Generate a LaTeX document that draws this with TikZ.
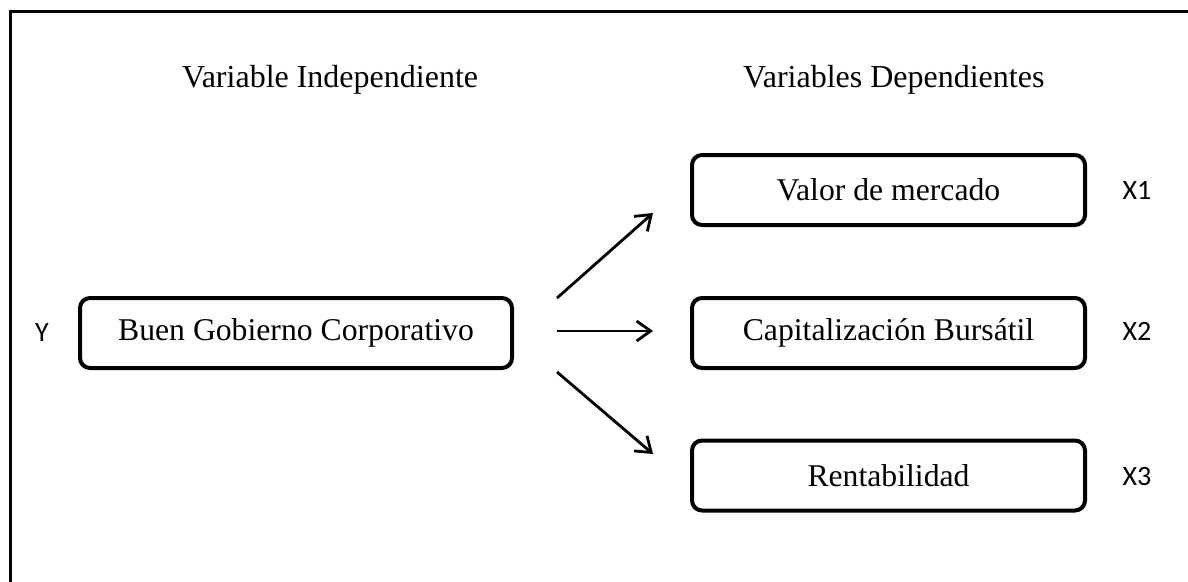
\documentclass[tikz,border=0pt]{standalone}
\usepackage{fontspec}
\setmainfont{Liberation Serif}
\newfontfamily\calibri{Carlito}
\usetikzlibrary{arrows.meta}
\tikzset{
  varbox/.style={draw, line width=4pt, rounded corners=10pt, inner sep=0pt, font=\fontsize{31.7}{38}\selectfont},
  leftbox/.style={varbox, minimum width=432pt, minimum height=70pt},
  rightbox/.style={varbox, minimum width=393pt, minimum height=70pt},
  header/.style={anchor=base west, inner sep=0pt, font=\fontsize{32}{38}\selectfont},
  tag/.style={inner sep=0pt, font=\calibri\fontsize{28}{32}\selectfont},
  arr/.style={line width=2.8pt, -{Straight Barb[length=14pt,width=20pt,line width=2.8pt]}}
}
\begin{document}
\begin{tikzpicture}[x=1pt,y=-1pt]
\useasboundingbox (0,0) rectangle (1188,581);
\clip (0,0) rectangle (1188,581);
\draw[line width=3pt] (10,11.5) rectangle (1200,600);
\node[header] (h1) at (182,87) {Variable Independiente};
\node[header] (h2) at (743,87) {Variables Dependientes};
\node[leftbox] (bgc) at (296,333) {Buen Gobierno Corporativo};
\node[rightbox] (vm) at (888.5,190) {Valor de mercado};
\node[rightbox] (cb) at (888.5,333) {Capitalización Bursátil};
\node[rightbox] (rt) at (888.5,475.5) {Rentabilidad};
\node[tag] (y) at (42,333) {Y};
\node[tag] (x1) at (1137,190) {X1};
\node[tag] (x2) at (1137,331) {X2};
\node[tag] (x3) at (1137,477) {X3};
\coordinate (s1) at (557,298);
\coordinate (e1) at (653,213);
\coordinate (s2) at (557,331);
\coordinate (e2) at (653,331);
\coordinate (s3) at (557,372);
\coordinate (e3) at (653,454);
\draw[arr] (s1) -- (e1);
\draw[arr] (s2) -- (e2);
\draw[arr] (s3) -- (e3);
\end{tikzpicture}
\end{document}
